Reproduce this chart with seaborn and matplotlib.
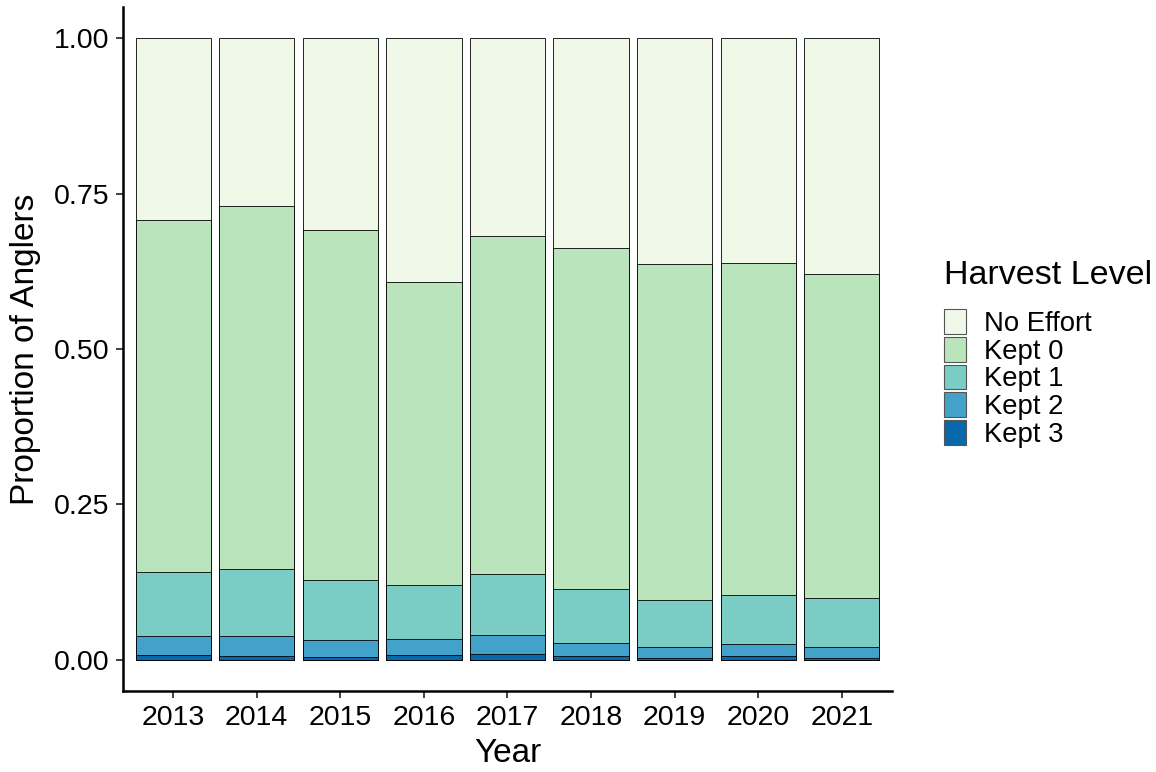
import matplotlib
matplotlib.use("Agg")
import matplotlib.pyplot as plt
import seaborn as sns
import pandas as pd
from matplotlib.patches import Patch

years = ["2013", "2014", "2015", "2016", "2017", "2018", "2019", "2020", "2021"]
levels = ["No Effort", "Kept 0", "Kept 1", "Kept 2", "Kept 3"]
no_effort = [0.293, 0.270, 0.308, 0.392, 0.318, 0.338, 0.364, 0.361, 0.379]
kept0 = [0.5655, 0.583, 0.564, 0.488, 0.544, 0.548, 0.540, 0.535, 0.522]
kept1 = [0.1035, 0.109, 0.0964, 0.087, 0.098, 0.087, 0.076, 0.079, 0.079]
kept2 = [0.0304, 0.032, 0.0273, 0.0254, 0.031, 0.021, 0.0173, 0.019, 0.0173]
kept3 = [0.0076, 0.006, 0.0043, 0.0076, 0.009, 0.006, 0.0027, 0.006, 0.0027]
colors = ["#F0F9E8", "#BAE4BC", "#7BCCC4", "#43A2CA", "#0868AC"]

sns.set_style("white")
plt.rcParams["font.family"] = ["Liberation Sans", "DejaVu Sans"]
plt.rcParams["text.color"] = "black"
plt.rcParams["axes.labelcolor"] = "black"

df = pd.DataFrame({"Year": years, "No Effort": no_effort, "Kept 0": kept0,
                   "Kept 1": kept1, "Kept 2": kept2, "Kept 3": kept3})
# cumulative tops, stacking from Kept 3 at the bottom
stack_order = levels[::-1]
cum = df[stack_order].cumsum(axis=1)

fig = plt.figure(figsize=(11.56, 7.72), dpi=100)
ax = fig.add_axes([0.1064, 0.1049, 0.6652, 0.886])

for lvl, col in zip(levels, colors):
    sns.barplot(x=df["Year"], y=cum[lvl], color=col, saturation=1, width=0.9,
                edgecolor="black", linewidth=0.6, errorbar=None, ax=ax)

ax.set_xlim(-0.6, 8.6)
ax.set_ylim(-0.05, 1.05)
ax.set_yticks([0, 0.25, 0.5, 0.75, 1.0])
ax.set_yticklabels(["0.00", "0.25", "0.50", "0.75", "1.00"])
ax.set_xlabel("Year", fontsize=24, labelpad=5, color="black")
ax.set_ylabel("Proportion of Anglers", fontsize=24, labelpad=9, color="black")
ax.tick_params(axis="both", labelsize=20.5, colors="#333333", labelcolor="black",
               length=5, width=1.3, pad=5, left=True, bottom=True)
for s in ["top", "right"]:
    ax.spines[s].set_visible(False)
for s in ["left", "bottom"]:
    ax.spines[s].set_color("black")
    ax.spines[s].set_linewidth(1.8)

handles = [Patch(facecolor=c, edgecolor="#555555", linewidth=0.8) for c in colors]
leg = fig.legend(handles, levels, title="Harvest Level", loc="center left",
                 bbox_to_anchor=(944 / 1156, 1 - 354 / 772), frameon=False,
                 fontsize=19.8, title_fontsize=24.5, handlelength=0.8,
                 handleheight=1.0, labelspacing=0.0, handletextpad=0.65,
                 borderpad=0, borderaxespad=0, alignment="left")
leg._legend_box.sep = 13
leg.get_title().set_color("black")
for t in leg.get_texts():
    t.set_color("black")

fig.savefig("out.png", dpi=100)
